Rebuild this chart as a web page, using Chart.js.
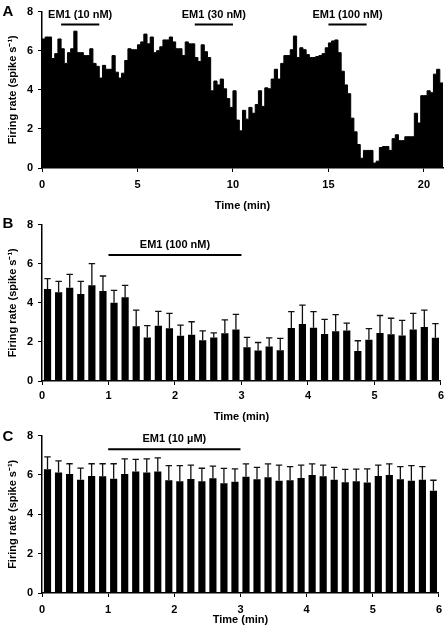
<!DOCTYPE html>
<html>
<head>
<meta charset="utf-8">
<script src="https://cdn.jsdelivr.net/npm/chart.js@4.4.1/dist/chart.umd.min.js"></script>
<style>
  html, body { margin: 0; padding: 0; background: #fff; }
  body { width: 448px; height: 640px; position: relative; overflow: hidden; }
  .panel { position: absolute; left: 0; width: 448px; }
  #panelA { top: 0; height: 213px; }
  #panelB { top: 213px; height: 211px; }
  #panelC { top: 424px; height: 216px; }
</style>
</head>
<body>
<div class="panel" id="panelA"><canvas id="chartA" width="448" height="213"></canvas></div>
<div class="panel" id="panelB"><canvas id="chartB" width="448" height="211"></canvas></div>
<div class="panel" id="panelC"><canvas id="chartC" width="448" height="216"></canvas></div>
<script>
// ======= 資料 =======
const BIN = 1 / 6; // 10 s bins (min)

// A: single-neuron rate histogram, 0-21 min
const rateA = [
  6.6, 6.7, 6.7, 5.6, 5.85, 6.6, 6.1, 5.35, 5.9, 6.1,
  7.0, 5.9, 5.9, 5.75, 5.75, 6.1, 5.35, 5.2, 4.6, 5.25,
  5.05, 5.05, 5.75, 4.9, 4.6, 4.85, 5.5, 6.1, 6.05, 6.05,
  6.3, 6.45, 6.85, 6.35, 6.7, 5.9, 6.0, 6.2, 6.55, 6.55,
  6.7, 6.45, 6.1, 6.1, 5.75, 6.45, 6.35, 6.35, 5.65, 5.45,
  6.3, 5.95, 5.65, 3.95, 4.45, 4.25, 4.55, 4.05, 3.55, 3.1,
  3.95, 2.45, 1.9, 2.95, 2.5, 3.1, 2.8, 3.25, 3.95, 3.15,
  4.1, 4.05, 4.55, 5.05, 4.55, 5.35, 5.75, 5.75, 6.05, 6.75,
  5.65, 6.15, 6.05, 5.8, 5.65, 5.65, 5.7, 5.75, 5.85, 6.15,
  6.4, 6.5, 6.55, 5.9, 4.95, 4.25, 3.8, 2.55, 1.85, 1.2,
  0.5, 0.9, 0.9, 0.9, 0.25, 0.35, 1.05, 1.1, 1.1, 0.9,
  1.5, 1.7, 1.4, 1.4, 1.6, 1.6, 1.6, 2.8, 2.3, 3.7,
  3.7, 3.95, 3.85, 4.8, 5.05, 4.35
];
const drugsA = [
  { label: 'EM1 (10 nM)', from: 1, to: 3 },
  { label: 'EM1 (30 nM)', from: 8, to: 10 },
  { label: 'EM1 (100 nM)', from: 15, to: 17 }
];

// B: mean ± SEM, EM1 100 nM
const meanB = [
  4.7, 4.54, 4.77, 4.45, 4.9, 4.6, 4.0, 4.28, 2.8, 2.23,
  2.83, 2.7, 2.31, 2.36, 2.09, 2.23, 2.44, 2.64, 1.72, 1.56,
  1.77, 1.57, 2.71, 2.91, 2.73, 2.41, 2.54, 2.58, 1.54, 2.11,
  2.46, 2.39, 2.33, 2.64, 2.76, 2.21
];
const semB = [
  0.54, 0.56, 0.68, 0.65, 1.1, 0.77, 0.64, 0.61, 0.83, 0.6,
  0.73, 0.76, 0.55, 0.67, 0.47, 0.23, 0.69, 0.77, 0.51, 0.41,
  0.44, 0.61, 0.84, 0.97, 0.82, 0.74, 0.86, 0.38, 0.52, 0.57,
  0.89, 0.82, 0.77, 0.82, 0.87, 0.72
];
const drugsB = [{ label: 'EM1 (100 nM)', from: 1, to: 3 }];

// C: mean ± SEM, EM1 10 µM
const meanC = [
  6.29, 6.12, 6.05, 5.76, 5.95, 5.93, 5.81, 6.05, 6.18, 6.12,
  6.17, 5.73, 5.68, 5.8, 5.68, 5.83, 5.58, 5.66, 5.91, 5.78,
  5.88, 5.7, 5.73, 5.85, 6.0, 5.93, 5.76, 5.63, 5.68, 5.61,
  5.95, 6.0, 5.78, 5.7, 5.76, 5.2
];
const semC = [
  0.63, 0.6, 0.52, 0.59, 0.62, 0.64, 0.76, 0.77, 0.61, 0.7,
  0.7, 0.74, 0.79, 0.7, 0.66, 0.62, 0.75, 0.65, 0.65, 0.6,
  0.68, 0.8, 0.69, 0.65, 0.56, 0.57, 0.62, 0.65, 0.62, 0.7,
  0.55, 0.56, 0.64, 0.77, 0.66, 0.53
];
const drugsC = [{ label: 'EM1 (10 µM)', from: 1, to: 3 }];

const yTitle = 'Firing rate (spike s⁻¹)';
const xTitle = 'Time (min)';

// ======= 共用設定 =======
const FONT = "'Liberation Sans', Arial, Helvetica, sans-serif";
Chart.defaults.font.family = FONT;
Chart.defaults.font.weight = 'bold';
Chart.defaults.font.size = 11;
Chart.defaults.color = '#000';

function binCenters(arr) {
  return arr.map((_, i) => (i + 0.5) * BIN);
}

// histogram outline: left edge of each bin, plus the closing edge
function histPoints(arr) {
  const pts = arr.map((v, i) => ({ x: i * BIN, y: v }));
  pts.push({ x: arr.length * BIN, y: arr[arr.length - 1] });
  return pts;
}

// 誤差線、給藥橫線、面板字母
function extrasPlugin(cfg) {
  return {
    id: 'extras',
    afterDatasetsDraw(chart) {
      const { ctx, scales: { x, y } } = chart;
      ctx.save();

      if (cfg.sem) {
        ctx.strokeStyle = '#111';
        ctx.lineWidth = 1.3;
        cfg.times.forEach((t, i) => {
          const px = x.getPixelForValue(t);
          const y0 = y.getPixelForValue(cfg.values[i]);
          const y1 = y.getPixelForValue(cfg.values[i] + cfg.sem[i]);
          ctx.beginPath();
          ctx.moveTo(px, y0);
          ctx.lineTo(px, y1);
          ctx.moveTo(px - 3.2, y1);
          ctx.lineTo(px + 3.2, y1);
          ctx.stroke();
        });
      }

      ctx.fillStyle = '#000';
      ctx.strokeStyle = '#000';
      ctx.lineWidth = 2;
      ctx.font = 'bold 11px ' + FONT;
      ctx.textAlign = 'center';
      ctx.textBaseline = 'middle';
      cfg.drugs.forEach(d => {
        const x0 = x.getPixelForValue(d.from);
        const x1 = x.getPixelForValue(d.to);
        const ly = y.getPixelForValue(cfg.lineAt);
        ctx.beginPath();
        ctx.moveTo(x0, ly);
        ctx.lineTo(x1, ly);
        ctx.stroke();
        ctx.fillText(d.label, (x0 + x1) / 2, y.getPixelForValue(cfg.textAt));
      });

      ctx.font = 'bold 15px ' + FONT;
      ctx.fillText(cfg.letter, cfg.letterPos[0], cfg.letterPos[1]);
      ctx.restore();
    }
  };
}

function makePanel(id, cfg) {
  let dataset;
  if (cfg.hist) {
    // solid histogram drawn as a filled step line
    dataset = {
      type: 'line',
      data: histPoints(cfg.values),
      stepped: 'before',
      fill: 'origin',
      backgroundColor: '#000',
      borderColor: '#000',
      borderWidth: 1,
      pointRadius: 0
    };
  } else {
    dataset = {
      type: 'bar',
      data: cfg.values.map((v, i) => ({ x: cfg.times[i], y: v })),
      backgroundColor: '#000',
      borderWidth: 0,
      barPercentage: cfg.barPct,
      categoryPercentage: 1
    };
  }

  return new Chart(document.getElementById(id), {
    type: cfg.hist ? 'line' : 'bar',
    data: { datasets: [dataset] },
    options: {
      responsive: false,
      animation: false,
      layout: { padding: { top: cfg.padTop, right: 5, left: 0, bottom: 0 } },
      plugins: { legend: { display: false }, tooltip: { enabled: false } },
      scales: {
        x: {
          type: 'linear',
          min: 0,
          max: cfg.xMax,
          offset: false,
          afterFit: s => { s.height = cfg.xHeight; },
          grid: { display: true, drawOnChartArea: false, drawTicks: true, tickLength: 4, color: '#000', offset: false },
          border: { display: true, color: '#000', width: 1.5 },
          ticks: { stepSize: cfg.xStep, includeBounds: false, maxRotation: 0, padding: cfg.tickPad },
          title: { display: true, text: xTitle, padding: { top: 0, bottom: cfg.titlePad } }
        },
        y: {
          min: 0,
          max: 8,
          afterFit: s => { s.width = 42; },
          grid: { display: true, drawOnChartArea: false, drawTicks: true, tickLength: 4, color: '#000' },
          border: { display: true, color: '#000', width: 1.5 },
          ticks: { stepSize: 2, padding: 5 },
          title: { display: true, text: yTitle, padding: { top: 6, bottom: 0 } }
        }
      }
    },
    plugins: [extrasPlugin(cfg)]
  });
}

// ======= 繪圖 =======
makePanel('chartA', {
  letter: 'A', letterPos: [8, 12],
  hist: true, values: rateA, sem: null,
  drugs: drugsA, lineAt: 7.34, textAt: 7.82,
  xMax: 21, xStep: 5,
  padTop: 10, xHeight: 45, tickPad: 6, titlePad: 0
});

makePanel('chartB', {
  letter: 'B', letterPos: [8, 11],
  times: binCenters(meanB), values: meanB, sem: semB,
  drugs: drugsB, lineAt: 6.44, textAt: 6.94,
  xMax: 6, xStep: 1, barPct: 0.65,
  padTop: 8, xHeight: 43, tickPad: 4, titlePad: 0
});

makePanel('chartC', {
  letter: 'C', letterPos: [8, 13],
  times: binCenters(meanC), values: meanC, sem: semC,
  drugs: drugsC, lineAt: 7.31, textAt: 7.84,
  xMax: 6, xStep: 1, barPct: 0.65,
  padTop: 10, xHeight: 47, tickPad: 6, titlePad: 13
});
</script>
</body>
</html>
